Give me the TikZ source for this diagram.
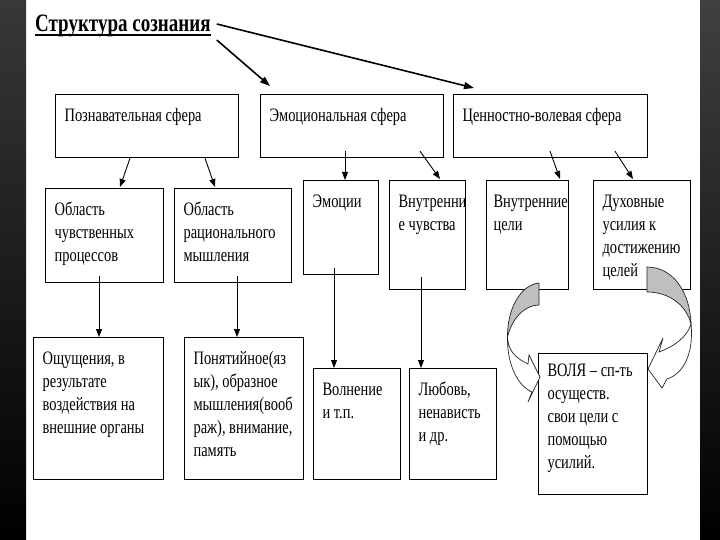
\documentclass[tikz,border=0pt]{standalone}
\usepackage{fontspec}
\setmainfont{Liberation Serif}[FakeStretch=0.76]
\usetikzlibrary{arrows.meta,calc}
\newcommand{\bt}[4][27]{\parbox[t][#3pt][t]{\dimexpr#2pt-18pt\relax}{\raggedright\rule{0pt}{#1pt}#4}}
\begin{document}
\begin{tikzpicture}[x=1pt,y=-1pt,
  bx/.style={draw, line width=1.2pt, inner xsep=9pt, inner ysep=0pt, anchor=north west,
    font=\fontsize{19}{23}\selectfont},
  con/.style={-{Triangle[length=8pt,width=6pt]}, line width=0.9pt},
  tcon/.style={-{Triangle[length=10pt,width=7pt]}, line width=1.6pt},
  carr/.style={draw=black!85, line width=0.7pt}]
\useasboundingbox (0,0) rectangle (720,540);
\fill[white] (0,0) rectangle (720,540);
\shade[top color=black!78, bottom color=black] (0,0) rectangle (26,540);
\shade[top color=black!75, bottom color=black] (700,0) rectangle (720,540);

\node[anchor=base west, inner sep=0pt, font=\fontsize{25}{30}\selectfont\bfseries] (title) at (35,32) {Структура сознания};
\draw[line width=2pt] ($(title.base west)+(0,3)$) -- ($(title.base east)+(0,3)$);

\node[bx] (pozn) at (55,94) {\bt{183}{63}{Познавательная сфера}};
\node[bx] (emo) at (260,94) {\bt{183}{63}{Эмоциональная сфера}};
\node[bx] (cen) at (453,94) {\bt{194}{63}{Ценностно-волевая сфера}};
\node[bx] (obl1) at (45,188) {\bt{118}{94}{Область\\чувственных\\процессов}};
\node[bx] (obl2) at (174,188) {\bt{117}{94}{Область\\рационального\\мышления}};
\node[bx] (emoc) at (303,180) {\bt{75}{94}{Эмоции}};
\node[bx] (vch) at (389,180) {\bt{76}{109}{Внутренни\\е чувства}};
\node[bx, inner xsep=7pt] (vcel) at (486,180) {\bt{86}{109}{Внутренние\\цели}};
\node[bx] (duh) at (593,180) {\bt{97}{109}{Духовные\\усилия к\\достижению\\целей}};
\node[bx] (osh) at (33,337) {\bt{130}{142}{Ощущения, в\\результате\\воздействия на\\внешние органы}};
\node[bx] (pon) at (184,337) {\bt{119}{142}{Понятийное(яз\\ык), образное\\мышления(вооб\\раж), внимание,\\память}};
\node[bx] (vol) at (313,368) {\bt{87}{111}{Волнение\\и т.п.}};
\node[bx] (lub) at (409,368) {\bt{87}{111}{Любовь,\\ненависть\\и др.}};
\node[bx] (volya) at (538,353) {\bt[23]{109}{141}{ВОЛЯ – сп-ть\\осуществ.\\свои цели с\\помощью\\усилий.}};

\draw[tcon] ($(title.base east)+(6,-8)$) -- ($(cen.north west)+(21,-6)$);
\draw[tcon] ($(title.base east)+(6,8)$) -- ($(emo.north west)+(10,-8)$);

\draw[con] ($(pozn.south west)+(75,0)$) -- ($(obl1.north west)+(75,-1)$);
\draw[con] ($(pozn.south west)+(150,0)$) -- ($(obl2.north west)+(41,-1)$);
\draw[con] ($(emo.south west)+(85,-7)$) -- ($(emoc.north west)+(42,0)$);
\draw[con] ($(emo.south west)+(160,-7)$) -- ($(vch.north west)+(51,-1)$);
\draw[con] ($(cen.south west)+(97,-7)$) -- ($(vcel.north west)+(74,-1)$);
\draw[con] ($(cen.south west)+(162,-7)$) -- ($(duh.north west)+(40,-1)$);
\draw[con] ($(obl1.south west)+(54,-7)$) -- ($(osh.north west)+(66,0)$);
\draw[con] ($(obl2.south west)+(63,-7)$) -- ($(pon.north west)+(53,0)$);
\draw[con] ($(emoc.south west)+(31,-7)$) -- ($(vol.north west)+(21,0)$);
\draw[con] ($(vch.south west)+(32,-13)$) -- ($(lub.north west)+(12,0)$);

% curved block arrows
\filldraw[fill=white, carr] (507.5,337) .. controls (507,365) and (518,386) .. (532,392)
  -- (528,402) -- (540,377) -- (529,355) -- (528,364)
  .. controls (515,358) and (508,350) .. (507.5,337) -- cycle;
\filldraw[fill=gray!50, carr] (539,283) .. controls (520,285) and (507,310) .. (507.5,337)
  .. controls (512,318) and (525,305) .. (539,305) -- cycle;
\filldraw[fill=white, carr] (691,324) .. controls (694,354) and (683,374) .. (667,379)
  -- (662,388) -- (648,369) -- (663,338) -- (659,352)
  .. controls (675,346) and (687,337) .. (691,324) -- cycle;
\filldraw[fill=gray!50, carr] (647,267) .. controls (673,267) and (690,292) .. (691,324)
  .. controls (686,304) and (668,292) .. (647,292) -- cycle;
\end{tikzpicture}
\end{document}
